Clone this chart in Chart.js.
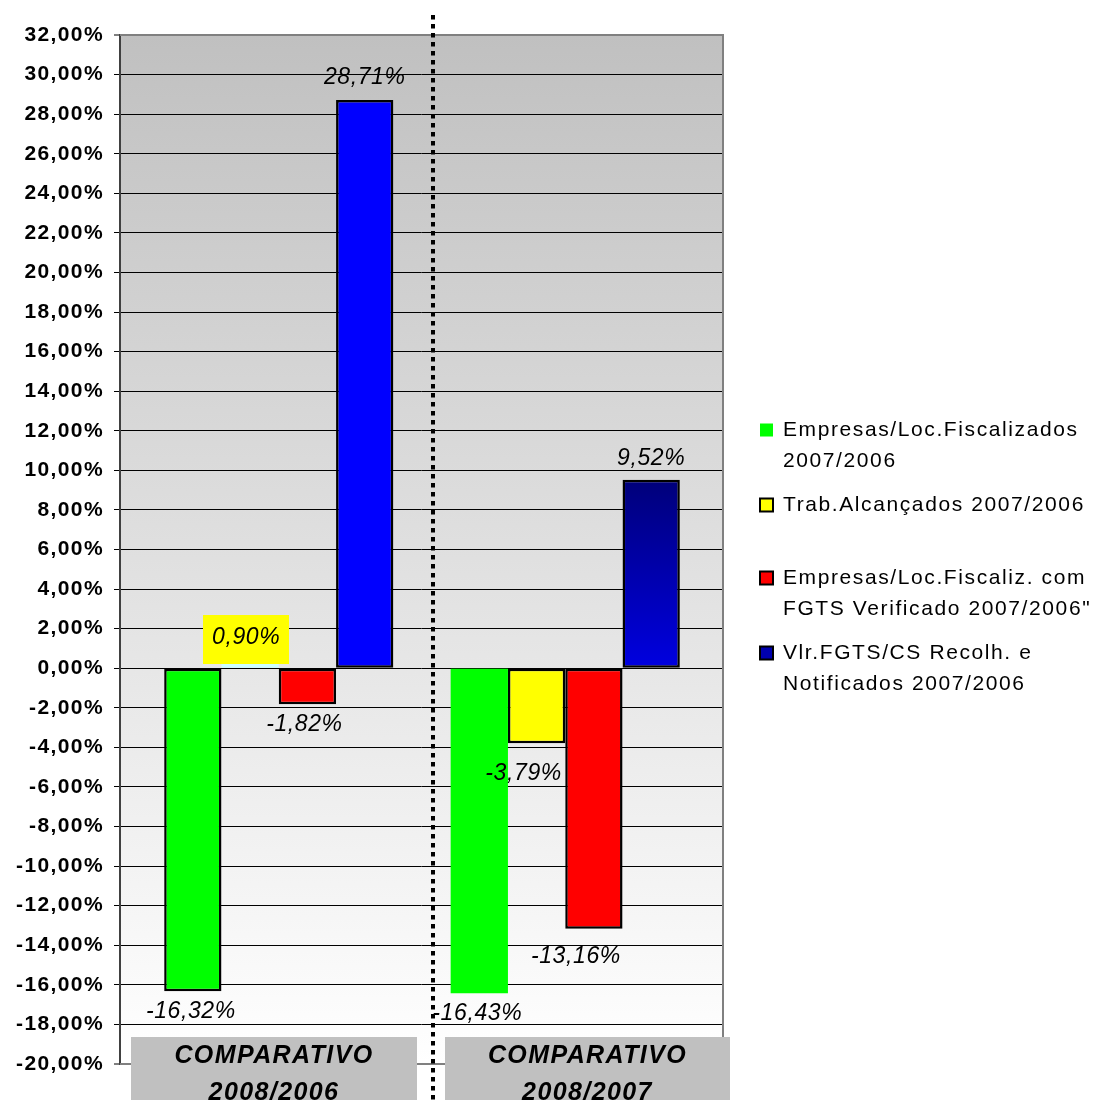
<!DOCTYPE html>
<html>
<head>
<meta charset="utf-8">
<title>Comparativo</title>
<script src="https://cdn.jsdelivr.net/npm/chart.js@4.4.1/dist/chart.umd.min.js"></script>
<style>
  html, body { margin: 0; padding: 0; background: #ffffff; }
  #wrap { width: 1093px; height: 1100px; position: relative; }
</style>
</head>
<body>
<div id="wrap"><canvas id="chart" width="1093" height="1100"></canvas></div>
<script>
// ---- data ----
const categories = ['COMPARATIVO 2008/2006', 'COMPARATIVO 2008/2007'];
const seriesNames = [
  ['Empresas/Loc.Fiscalizados', '2007/2006'],
  ['Trab.Alcançados 2007/2006'],
  ['Empresas/Loc.Fiscaliz. com', 'FGTS Verificado 2007/2006"'],
  ['Vlr.FGTS/CS Recolh. e', 'Notificados 2007/2006']
];
const empresasFiscalizados = [-16.32, -16.43];
const trabAlcancados = [0.90, -3.79];
const empresasFgtsVerificado = [-1.82, -13.16];
const vlrFgtsRecolhido = [28.71, 9.52];
const yMin = -20, yMax = 32, yStep = 2;

// ---- styling ----
const FONT = '"Liberation Sans", Arial, Helvetica, sans-serif';
const pct = v => v.toFixed(2).replace('.', ',') + '%';
const toPoints = arr => arr.map((v, i) => ({ x: i, y: v }));

// per-label shifts (dx, dy) for the value labels, per series and category
const labelNudge = [
  [[-2, 0], [-2, 0]],
  [[-4, 8], [-13, 10]],
  [[-3, 0], [-18, 8]],
  [[0, -1], [0, 0]]
];
// value labels drawn on a filled box: [seriesIndex, categoryIndex, fill]
const boxedLabels = [[1, 0, '#FFFF00']];

function navyGradient(context) {
  const chart = context.chart;
  const y = chart.scales.y;
  if (!y || !chart.chartArea) return '#000099';
  const top = y.getPixelForValue(vlrFgtsRecolhido[1]);
  const base = y.getPixelForValue(0);
  const g = chart.ctx.createLinearGradient(0, top, 0, base);
  g.addColorStop(0, '#00007A');
  g.addColorStop(1, '#0000E0');
  return g;
}

const datasets = [
  {
    label: seriesNames[0].join(' '),
    data: toPoints(empresasFiscalizados),
    backgroundColor: ['#00FF00', '#00FF00'],
    borderColor: '#000000',
    borderWidth: [2.5, 0]
  },
  {
    label: seriesNames[1].join(' '),
    data: toPoints(trabAlcancados),
    backgroundColor: ['#CCFFFF', '#FFFF00'],
    borderColor: '#000000',
    borderWidth: [0, 2.5]
  },
  {
    label: seriesNames[2].join(' '),
    data: toPoints(empresasFgtsVerificado),
    backgroundColor: ['#FF0000', '#FF0000'],
    borderColor: '#000000',
    borderWidth: 2.5
  },
  {
    label: seriesNames[3].join(' '),
    data: toPoints(vlrFgtsRecolhido),
    backgroundColor: (ctx) => ctx.dataIndex === 1 ? navyGradient(ctx) : '#0000FF',
    borderColor: '#000000',
    borderWidth: 2.5
  }
];

const legendColors = ['#00FF00', '#FFFF00', '#FF0000', '#0000B0'];
const legendBorders = [0, 2, 2, 2];

// plot background and wider text spacing for the axis labels
const backgroundPlugin = {
  id: 'plotBackground',
  beforeDraw(chart) {
    const { ctx, chartArea: a } = chart;
    ctx.save();
    ctx.fillStyle = '#ffffff';
    ctx.fillRect(0, 0, chart.width, chart.height);
    const g = ctx.createLinearGradient(0, a.top, 0, a.bottom);
    g.addColorStop(0, '#C0C0C0');
    g.addColorStop(1, '#FFFFFF');
    ctx.fillStyle = g;
    ctx.fillRect(a.left, a.top, a.right - a.left, a.bottom - a.top);
    ctx.restore();
    ctx.letterSpacing = '1.4px';
  },
  beforeDatasetsDraw(chart) {
    chart.ctx.letterSpacing = '0px';
  }
};

// plot frame on top and right
const framePlugin = {
  id: 'plotFrame',
  beforeDatasetsDraw(chart) {
    const { ctx, chartArea: a } = chart;
    ctx.save();
    ctx.strokeStyle = '#808080';
    ctx.lineWidth = 2;
    ctx.beginPath();
    ctx.moveTo(a.left, a.top);
    ctx.lineTo(a.right + 1, a.top);
    ctx.lineTo(a.right + 1, a.bottom);
    ctx.lineTo(a.left, a.bottom);
    ctx.stroke();
    ctx.restore();
  }
};

// value labels above / below each bar
const valueLabelPlugin = {
  id: 'valueLabels',
  afterDatasetsDraw(chart) {
    const { ctx } = chart;
    ctx.save();
    ctx.letterSpacing = '0.6px';
    ctx.font = 'italic 23px ' + FONT;
    ctx.textAlign = 'center';
    ctx.textBaseline = 'middle';
    chart.data.datasets.forEach((ds, di) => {
      const meta = chart.getDatasetMeta(di);
      meta.data.forEach((bar, i) => {
        const v = ds.data[i].y;
        const nudge = labelNudge[di][i];
        const x = bar.x + nudge[0];
        const y = (v >= 0 ? bar.y - 21 : bar.y + 20) + nudge[1];
        const text = pct(v);
        const boxed = boxedLabels.find(b => b[0] === di && b[1] === i);
        if (boxed) {
          const w = ctx.measureText(text).width + 18;
          const h = 49;
          ctx.fillStyle = boxed[2];
          ctx.fillRect(Math.round(x - w / 2), Math.round(y + 2 - h / 2), Math.round(w), h);
        }
        ctx.fillStyle = '#000000';
        ctx.fillText(text, x, y);
      });
    });
    ctx.restore();
  }
};

// category boxes, divider and legend
const decorPlugin = {
  id: 'decor',
  afterDraw(chart) {
    const { ctx, chartArea: a } = chart;
    ctx.save();
    ctx.letterSpacing = '0px';

    // category label boxes under the plot
    const boxes = [[a.left + 11, a.left + 297], [a.left + 325, a.left + 610]];
    categories.forEach((cat, i) => {
      const [l, r] = boxes[i];
      ctx.fillStyle = '#C0C0C0';
      ctx.fillRect(l, 1037, r - l, chart.height - 1037);
      ctx.fillStyle = '#000000';
      ctx.font = 'italic bold 25px ' + FONT;
      ctx.letterSpacing = '1.4px';
      ctx.textAlign = 'center';
      ctx.textBaseline = 'middle';
      const parts = cat.split(' ');
      ctx.fillText(parts[0], (l + r) / 2, 1056);
      ctx.fillText(parts[1], (l + r) / 2, 1093);
    });

    // dotted divider between the two comparisons
    ctx.letterSpacing = '0px';
    ctx.strokeStyle = '#000000';
    ctx.lineWidth = 4;
    ctx.setLineDash([4.5, 4.5]);
    ctx.beginPath();
    ctx.moveTo(433, 15);
    ctx.lineTo(433, chart.height);
    ctx.stroke();
    ctx.setLineDash([]);

    // legend
    const firstLine = [430, 505, 578, 653];
    ctx.font = '21px ' + FONT;
    ctx.letterSpacing = '1.6px';
    ctx.textAlign = 'left';
    ctx.textBaseline = 'middle';
    seriesNames.forEach((lines, i) => {
      const cy = firstLine[i];
      ctx.fillStyle = legendColors[i];
      ctx.fillRect(760, cy - 6.5, 13, 13);
      if (legendBorders[i]) {
        ctx.strokeStyle = '#000000';
        ctx.lineWidth = legendBorders[i];
        ctx.strokeRect(760, cy - 6.5, 13, 13);
      }
      ctx.fillStyle = '#000000';
      lines.forEach((t, k) => ctx.fillText(t, 783, cy + k * 31));
    });
    ctx.restore();
  }
};

new Chart(document.getElementById('chart'), {
  type: 'bar',
  data: { datasets },
  plugins: [backgroundPlugin, framePlugin, valueLabelPlugin, decorPlugin],
  options: {
    responsive: false,
    devicePixelRatio: 1,
    animation: false,
    layout: { padding: { top: 35, right: 371, bottom: 36, left: 0 } },
    datasets: {
      bar: { categoryPercentage: 0.8, barPercentage: 1.0, borderSkipped: false }
    },
    plugins: {
      legend: { display: false },
      tooltip: { enabled: false },
      title: { display: false }
    },
    scales: {
      x: {
        type: 'linear',
        offset: false,
        min: -0.5542,
        max: 1.5472,
        display: false,
        grid: { offset: false },
        afterBuildTicks: (s) => { s.ticks = categories.map((_, i) => ({ value: i })); }
      },
      y: {
        min: yMin,
        max: yMax,
        afterFit: (s) => { s.width = 120; },
        ticks: {
          stepSize: yStep,
          padding: 10,
          color: '#000000',
          font: { family: FONT, size: 21, weight: 'bold' },
          callback: (v) => pct(v)
        },
        grid: {
          color: (c) => (c.tick && (c.tick.value === yMax || c.tick.value === yMin)) ? '#808080' : '#000000',
          lineWidth: (c) => (c.tick && (c.tick.value === yMax || c.tick.value === yMin)) ? 2 : 1,
          tickColor: '#000000',
          tickWidth: 1,
          tickLength: 6
        },
        border: { color: '#404040', width: 2 }
      }
    }
  }
});
</script>
</body>
</html>
